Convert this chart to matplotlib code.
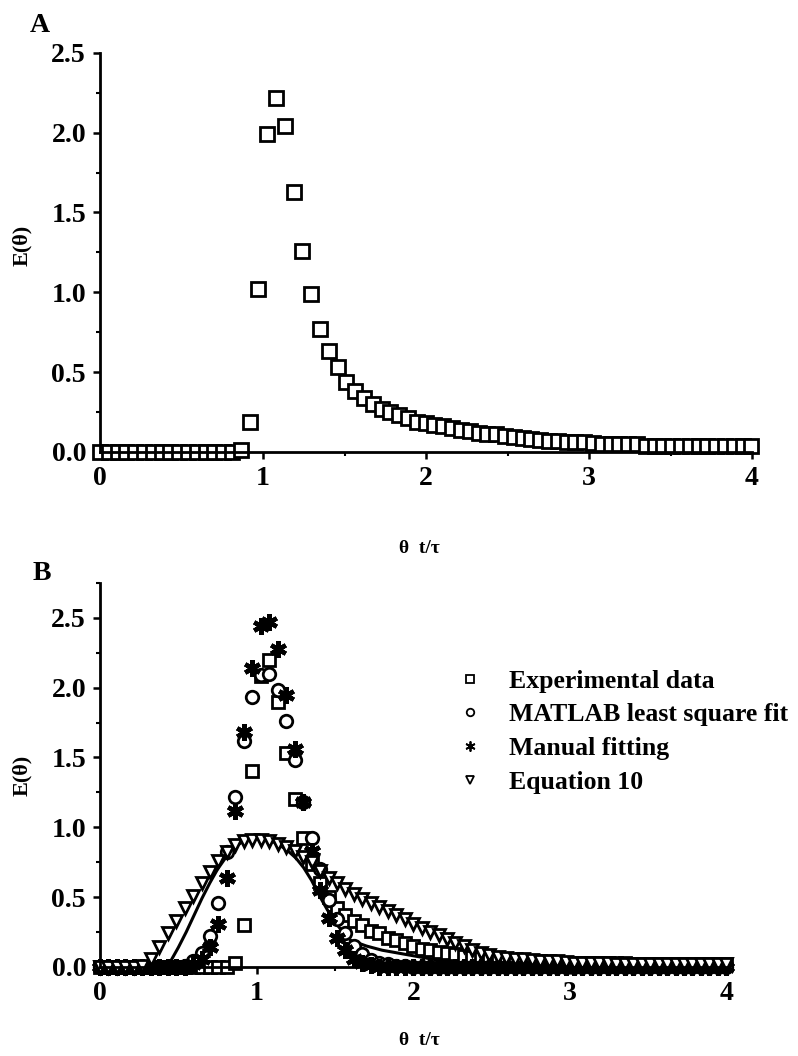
import matplotlib
matplotlib.use("Agg")
import matplotlib.pyplot as plt
from matplotlib.ticker import MultipleLocator

plt.rcParams["font.family"] = ["Liberation Serif", "DejaVu Serif"]
plt.rcParams["font.weight"] = "bold"

# sampling grid of theta = t/tau (shared by both panels)
theta = [0.000, 0.054, 0.108, 0.162, 0.216, 0.270, 0.324, 0.378, 0.432, 0.486,
         0.540, 0.594, 0.648, 0.702, 0.756, 0.810, 0.864, 0.918, 0.972, 1.026,
         1.080, 1.134, 1.188, 1.242, 1.296, 1.350, 1.404, 1.458, 1.512, 1.566,
         1.620, 1.674, 1.728, 1.782, 1.836, 1.890, 1.944, 1.998, 2.052, 2.106,
         2.160, 2.214, 2.268, 2.322, 2.376, 2.430, 2.484, 2.538, 2.592, 2.646,
         2.700, 2.754, 2.808, 2.862, 2.916, 2.970, 3.024, 3.078, 3.132, 3.186,
         3.240, 3.294, 3.348, 3.402, 3.456, 3.510, 3.564, 3.618, 3.672, 3.726,
         3.780, 3.834, 3.888, 3.942, 3.996]

# panel A: experimental E(theta)
exp_a = [0.00, 0.00, 0.00, 0.00, 0.00, 0.00, 0.00, 0.00, 0.00, 0.00,
         0.00, 0.00, 0.00, 0.00, 0.00, 0.00, 0.01, 0.19, 1.02, 1.99,
         2.22, 2.04, 1.63, 1.26, 0.99, 0.77, 0.63, 0.53, 0.44, 0.38,
         0.34, 0.30, 0.27, 0.25, 0.23, 0.21, 0.19, 0.18, 0.17, 0.16,
         0.15, 0.14, 0.13, 0.12, 0.115, 0.11, 0.10, 0.095, 0.09, 0.08,
         0.075, 0.07, 0.07, 0.065, 0.06, 0.06, 0.055, 0.05, 0.05, 0.05,
         0.05, 0.05, 0.04, 0.04, 0.04, 0.04, 0.04, 0.04, 0.04, 0.04,
         0.04, 0.04, 0.04, 0.04, 0.04]

# panel B series
exp_b = [0.00, 0.00, 0.00, 0.00, 0.00, 0.00, 0.00, 0.00, 0.00, 0.00,
         0.00, 0.00, 0.00, 0.00, 0.00, 0.00, 0.03, 0.30, 1.40, 2.08,
         2.20, 1.90, 1.53, 1.20, 0.92, 0.74, 0.60, 0.50, 0.42, 0.37,
         0.33, 0.30, 0.26, 0.24, 0.21, 0.19, 0.17, 0.15, 0.13, 0.12,
         0.11, 0.10, 0.09, 0.08, 0.07, 0.065, 0.06, 0.055, 0.05, 0.05,
         0.045, 0.04, 0.04, 0.035, 0.035, 0.03, 0.03, 0.03, 0.03, 0.025,
         0.025, 0.025, 0.025, 0.02, 0.02, 0.02, 0.02, 0.02, 0.02, 0.02,
         0.02, 0.02, 0.02, 0.02, 0.02]

matlab_fit = [0.00, 0.00, 0.00, 0.00, 0.00, 0.00, 0.00, 0.00, 0.00, 0.00,
              0.01, 0.04, 0.10, 0.22, 0.46, 0.82, 1.22, 1.62, 1.93, 2.09,
              2.10, 1.98, 1.76, 1.48, 1.18, 0.92, 0.70, 0.48, 0.34, 0.24,
              0.15, 0.09, 0.05, 0.03, 0.02, 0.01, 0.01, 0.00, 0.00, 0.00,
              0.00, 0.00, 0.00, 0.00, 0.00, 0.00, 0.00, 0.00, 0.00, 0.00,
              0.00, 0.00, 0.00, 0.00, 0.00, 0.00, 0.00, 0.00, 0.00, 0.00,
              0.00, 0.00, 0.00, 0.00, 0.00, 0.00, 0.00, 0.00, 0.00, 0.00,
              0.00, 0.00, 0.00, 0.00, 0.00]

manual_fit = [0.00, 0.00, 0.00, 0.00, 0.00, 0.00, 0.00, 0.00, 0.00, 0.00,
              0.00, 0.02, 0.06, 0.14, 0.31, 0.64, 1.12, 1.68, 2.14, 2.44,
              2.47, 2.28, 1.95, 1.56, 1.18, 0.83, 0.55, 0.35, 0.21, 0.12,
              0.06, 0.03, 0.015, 0.00, 0.00, 0.00, 0.00, 0.00, 0.00, 0.00,
              0.00, 0.00, 0.00, 0.00, 0.00, 0.00, 0.00, 0.00, 0.00, 0.00,
              0.00, 0.00, 0.00, 0.00, 0.00, 0.00, 0.00, 0.00, 0.00, 0.00,
              0.00, 0.00, 0.00, 0.00, 0.00, 0.00, 0.00, 0.00, 0.00, 0.00,
              0.00, 0.00, 0.00, 0.00, 0.00]

equation_10 = [0.00, 0.00, 0.00, 0.00, 0.00, 0.01, 0.06, 0.14, 0.24, 0.33,
               0.42, 0.51, 0.60, 0.68, 0.76, 0.82, 0.87, 0.90, 0.91, 0.91,
               0.90, 0.88, 0.86, 0.83, 0.79, 0.75, 0.69, 0.64, 0.60, 0.56,
               0.52, 0.49, 0.46, 0.43, 0.40, 0.37, 0.34, 0.31, 0.28, 0.25,
               0.23, 0.20, 0.17, 0.15, 0.12, 0.10, 0.085, 0.075, 0.065, 0.06,
               0.055, 0.05, 0.045, 0.04, 0.04, 0.035, 0.03, 0.03, 0.03, 0.03,
               0.03, 0.02, 0.02, 0.02, 0.02, 0.02, 0.02, 0.02, 0.02, 0.02,
               0.02, 0.02, 0.02, 0.02, 0.02]

# continuous curve drawn under the markers in panel B
curve_x = [0.00, 0.40, 0.45, 0.50, 0.55, 0.60, 0.65, 0.70, 0.75, 0.80, 0.85,
           0.90, 0.95, 1.00, 1.05, 1.10, 1.15, 1.20, 1.25, 1.30, 1.35, 1.40,
           1.45, 1.50, 1.55, 1.60, 1.70, 1.80, 1.90, 2.00, 2.10, 2.20, 2.30,
           2.40, 4.00]
curve_y = [0.00, 0.00, 0.04, 0.14, 0.25, 0.37, 0.49, 0.60, 0.70, 0.78, 0.85,
           0.89, 0.92, 0.93, 0.92, 0.90, 0.87, 0.83, 0.78, 0.71, 0.62, 0.51,
           0.41, 0.32, 0.25, 0.19, 0.15, 0.12, 0.10, 0.08, 0.06, 0.04, 0.02,
           0.005, 0.00]

legend_labels = ["Experimental data", "MATLAB least square fit",
                 "Manual fitting", "Equation 10"]


def style_axis(ax, ymax):
    ax.set_xlim(0, 4)
    ax.set_ylim(0, ymax)
    for side in ("top", "right"):
        ax.spines[side].set_visible(False)
    for side in ("left", "bottom"):
        ax.spines[side].set_linewidth(2.0)
    ax.xaxis.set_major_locator(MultipleLocator(1))
    ax.xaxis.set_minor_locator(MultipleLocator(0.5))
    ax.yaxis.set_major_locator(MultipleLocator(0.5))
    ax.yaxis.set_minor_locator(MultipleLocator(0.25))
    ax.xaxis.set_major_formatter(lambda v, p: f"{v:.0f}")
    ax.yaxis.set_major_formatter(lambda v, p: f"{v:.1f}")
    ax.tick_params(which="major", direction="out", length=5, width=1.8,
                   labelsize=20, pad=5)
    ax.tick_params(which="minor", direction="out", length=3, width=1.5)
    for lab in ax.get_xticklabels() + ax.get_yticklabels():
        lab.set_fontweight("bold")


fig = plt.figure(figsize=(7.98, 10.56), dpi=100)

# panel A
ax_a = fig.add_axes([0.1253, 0.572, 0.8171, 0.378])
ax_a.plot(theta, exp_a, linestyle="none", marker="s", ms=9.5, mew=2.0,
          mec="black", mfc="white", clip_on=False)
style_axis(ax_a, 2.5)

# panel B
ax_b = fig.add_axes([0.1253, 0.0843, 0.7857, 0.3637])
ax_b.plot(curve_x, curve_y, color="black", lw=2.2, zorder=1)
ax_b.plot(theta, exp_b, linestyle="none", marker="s", ms=8.5, mew=2.0,
          mec="black", mfc="white", clip_on=False, label=legend_labels[0])
ax_b.plot(theta, matlab_fit, linestyle="none", marker="o", ms=9, mew=2.0,
          mec="black", mfc="white", clip_on=False, label=legend_labels[1])
ax_b.plot(theta, manual_fit, linestyle="none", marker=(6, 2, 0), ms=12, mew=3.2,
          mec="black", mfc="black", clip_on=False, label=legend_labels[2])
ax_b.plot(theta, equation_10, linestyle="none", marker="v", ms=9, mew=2.0,
          mec="black", mfc="white", clip_on=False, label=legend_labels[3])
style_axis(ax_b, 2.75)

leg = ax_b.legend(loc="upper left", bbox_to_anchor=(0.573, 0.366),
                  bbox_transform=fig.transFigure, frameon=False, borderpad=0,
                  borderaxespad=0, handlelength=1.0, handletextpad=1.0,
                  labelspacing=0.42, markerscale=0.6,
                  prop={"family": "Liberation Serif", "weight": "bold", "size": 18.5})
for handle in leg.legend_handles:
    handle.set_markeredgewidth(1.3)

# panel letters and axis titles
fig.text(0.05, 0.976, "A", fontsize=20, fontweight="bold", ha="center", va="center")
fig.text(0.053, 0.457, "B", fontsize=20, fontweight="bold", ha="center", va="center")
fig.text(0.028, 0.768, "E(θ)", fontsize=16, fontweight="bold", rotation=90,
         ha="center", va="center")
fig.text(0.028, 0.266, "E(θ)", fontsize=16, fontweight="bold", rotation=90,
         ha="center", va="center")
fig.text(0.526, 0.481, "θ  t/τ", fontsize=14, fontweight="bold",
         ha="center", va="center")
fig.text(0.526, 0.015, "θ  t/τ", fontsize=14, fontweight="bold",
         ha="center", va="center")

fig.savefig("out.png", dpi=100)
plt.close(fig)
